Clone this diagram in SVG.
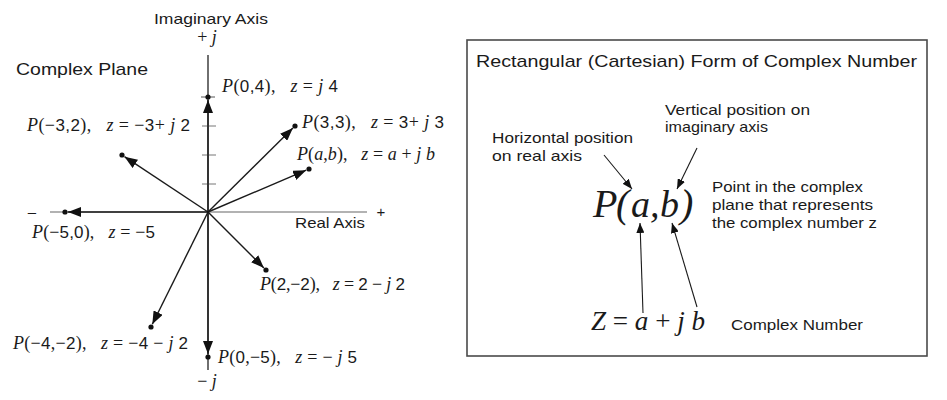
<svg xmlns="http://www.w3.org/2000/svg" width="947" height="400" viewBox="0 0 947 400">
<defs>
<style>
.sans{font-family:"Liberation Sans","DejaVu Sans",sans-serif;fill:#1a1a1a}
.lbl{font-family:"Liberation Serif","DejaVu Serif",serif;font-size:18px;fill:#1a1a1a;white-space:pre}
.i{font-style:italic}
.d{font-family:"Liberation Sans","DejaVu Sans",sans-serif;font-size:17px}
.math{font-family:"Liberation Serif","DejaVu Serif",serif;font-style:italic;fill:#1a1a1a}
.vec{stroke:#1a1a1a;stroke-width:1.4;fill:none;marker-end:url(#ah)}
.thin{stroke:#1a1a1a;stroke-width:1.1;fill:none;marker-end:url(#sah)}
.dot{fill:#111}
</style>
<marker id="ah" viewBox="0 0 13 10" refX="13" refY="5" markerWidth="13" markerHeight="10" markerUnits="userSpaceOnUse" orient="auto">
<path d="M0,0 L13,5 L0,10 z" fill="#111"/>
</marker>
<marker id="sah" viewBox="0 0 10 8" refX="10" refY="4" markerWidth="10" markerHeight="8" markerUnits="userSpaceOnUse" orient="auto">
<path d="M0,0 L10,4 L0,8 z" fill="#111"/>
</marker>
</defs>
<rect width="947" height="400" fill="#fff"/>

<g id="rect-form-box">
<rect x="467" y="40" width="460" height="316" fill="#fff" stroke="#4a4a4a" stroke-width="1.6"/>
<text class="sans" x="476" y="67" font-size="17" textLength="441" lengthAdjust="spacingAndGlyphs">Rectangular (Cartesian) Form of Complex Number</text>
</g>

<g id="axes">
<line x1="50" y1="212" x2="367" y2="212" stroke="#999" stroke-width="1.5"/>
<line x1="208" y1="55" x2="208" y2="370" stroke="#333" stroke-width="1.4"/>
<line x1="201" y1="97" x2="215" y2="97" stroke="#555" stroke-width="1"/>
<line x1="202" y1="126" x2="216" y2="126" stroke="#777" stroke-width="1"/>
<line x1="202" y1="155" x2="216" y2="155" stroke="#777" stroke-width="1"/>
<line x1="202" y1="184" x2="216" y2="184" stroke="#777" stroke-width="1"/>
</g>

<g id="connectors">
<line class="vec" x1="208" y1="212" x2="208" y2="100"/>
<line class="vec" x1="208" y1="212" x2="292.9" y2="128.1"/>
<line class="vec" x1="208" y1="212" x2="306.2" y2="170.2"/>
<line class="vec" x1="208" y1="212" x2="124.5" y2="156.7"/>
<line class="vec" x1="208" y1="212" x2="68" y2="212"/>
<line class="vec" x1="208" y1="212" x2="263.9" y2="267.9"/>
<line class="vec" x1="208" y1="212" x2="152.3" y2="324.3"/>
<line class="vec" x1="208" y1="212" x2="208" y2="354"/>
<line class="thin" x1="604" y1="155" x2="632" y2="189"/>
<line class="thin" x1="697" y1="148" x2="677" y2="189"/>
<line class="thin" x1="643" y1="313" x2="640" y2="223"/>
<line class="thin" x1="697" y1="307" x2="672" y2="223"/>
</g>

<g id="points">
<circle class="dot" cx="208" cy="97" r="2.6"/>
<circle class="dot" cx="295" cy="126" r="2.6"/>
<circle class="dot" cx="309" cy="169" r="2.6"/>
<circle class="dot" cx="122" cy="155" r="2.6"/>
<circle class="dot" cx="65" cy="212" r="2.6"/>
<circle class="dot" cx="266" cy="270" r="2.6"/>
<circle class="dot" cx="151" cy="327" r="2.6"/>
<circle class="dot" cx="208" cy="357" r="2.6"/>
</g>

<g id="plane-labels">
<text class="sans" x="154" y="24" font-size="15" textLength="114" lengthAdjust="spacingAndGlyphs">Imaginary Axis</text>
<text class="lbl" x="207" y="43" text-anchor="middle">+ <tspan class="i">j</tspan></text>
<text class="sans" x="16" y="75" font-size="17" textLength="132" lengthAdjust="spacingAndGlyphs">Complex Plane</text>
<text class="sans" x="295" y="228" font-size="15" textLength="70" lengthAdjust="spacingAndGlyphs">Real Axis</text>
<text class="sans" x="381" y="217" font-size="15" text-anchor="middle">+</text>
<text class="sans" x="32" y="217" font-size="15" text-anchor="middle">–</text>
<text class="lbl" x="207" y="387" text-anchor="middle">− <tspan class="i">j</tspan></text>
</g>

<g id="node-p04"><text class="lbl" xml:space="preserve" x="222" y="92" textLength="116" lengthAdjust="spacing"><tspan class="i">P</tspan>(<tspan class="d">0,4</tspan>),   <tspan class="i">z</tspan> = <tspan class="i">j</tspan> <tspan class="d">4</tspan></text></g>
<g id="node-p33"><text class="lbl" xml:space="preserve" x="302" y="128" textLength="142" lengthAdjust="spacing"><tspan class="i">P</tspan>(<tspan class="d">3,3</tspan>),   <tspan class="i">z</tspan> = <tspan class="d">3</tspan>+ <tspan class="i">j</tspan> <tspan class="d">3</tspan></text></g>
<g id="node-pab"><text class="lbl" xml:space="preserve" x="297" y="160" textLength="138" lengthAdjust="spacing"><tspan class="i">P</tspan>(<tspan class="i">a</tspan>,<tspan class="i">b</tspan>),   <tspan class="i">z</tspan> = <tspan class="i">a</tspan> + <tspan class="i">j b</tspan></text></g>
<g id="node-pm32"><text class="lbl" xml:space="preserve" x="27" y="131" textLength="163" lengthAdjust="spacing"><tspan class="i">P</tspan>(−<tspan class="d">3,2</tspan>),   <tspan class="i">z</tspan> = −<tspan class="d">3</tspan>+ <tspan class="i">j</tspan> <tspan class="d">2</tspan></text></g>
<g id="node-pm50"><text class="lbl" xml:space="preserve" x="32" y="238" textLength="123" lengthAdjust="spacing"><tspan class="i">P</tspan>(−<tspan class="d">5,0</tspan>),   <tspan class="i">z</tspan> = −<tspan class="d">5</tspan></text></g>
<g id="node-p2m2"><text class="lbl" xml:space="preserve" x="260" y="290" textLength="145" lengthAdjust="spacing"><tspan class="i">P</tspan>(<tspan class="d">2</tspan>,−<tspan class="d">2</tspan>),   <tspan class="i">z</tspan> = <tspan class="d">2</tspan> − <tspan class="i">j</tspan> <tspan class="d">2</tspan></text></g>
<g id="node-pm4m2"><text class="lbl" xml:space="preserve" x="13" y="349" textLength="175" lengthAdjust="spacing"><tspan class="i">P</tspan>(−<tspan class="d">4</tspan>,−<tspan class="d">2</tspan>),   <tspan class="i">z</tspan> = −<tspan class="d">4</tspan> − <tspan class="i">j</tspan> <tspan class="d">2</tspan></text></g>
<g id="node-p0m5"><text class="lbl" xml:space="preserve" x="218" y="363" textLength="139" lengthAdjust="spacing"><tspan class="i">P</tspan>(<tspan class="d">0</tspan>,−<tspan class="d">5</tspan>),   <tspan class="i">z</tspan> = − <tspan class="i">j</tspan> <tspan class="d">5</tspan></text></g>

<g id="node-vertical">
<text class="sans" x="665" y="115" font-size="15" textLength="145" lengthAdjust="spacingAndGlyphs">Vertical position on</text>
<text class="sans" x="665" y="132" font-size="15" textLength="103" lengthAdjust="spacingAndGlyphs">imaginary axis</text>
</g>
<g id="node-horizontal">
<text class="sans" x="492" y="143" font-size="15" textLength="141" lengthAdjust="spacingAndGlyphs">Horizontal position</text>
<text class="sans" x="492" y="161" font-size="15" textLength="90" lengthAdjust="spacingAndGlyphs">on real axis</text>
</g>
<g id="node-point">
<text class="math" x="593" y="217" font-size="40">P</text>
<text class="math" x="616" y="217" font-size="40" font-style="normal">(</text>
<text class="math" x="631" y="217" font-size="38">a</text>
<text class="math" x="650" y="217" font-size="38" font-style="normal">,</text>
<text class="math" x="660" y="217" font-size="38">b</text>
<text class="math" x="680" y="217" font-size="40" font-style="normal">)</text>
</g>
<g id="node-point-desc">
<text class="sans" x="712" y="192" font-size="15" textLength="151" lengthAdjust="spacingAndGlyphs">Point in the complex</text>
<text class="sans" x="712" y="210" font-size="15" textLength="161" lengthAdjust="spacingAndGlyphs">plane that represents</text>
<text class="sans" x="712" y="228" font-size="15" textLength="165" lengthAdjust="spacingAndGlyphs">the complex number z</text>
</g>
<g id="node-z">
<text class="math" x="591" y="330" font-size="28" textLength="114" lengthAdjust="spacingAndGlyphs">Z <tspan font-style="normal">=</tspan> a <tspan font-style="normal">+</tspan> j b</text>
</g>
<g id="node-complex-number">
<text class="sans" x="731" y="330" font-size="15" textLength="132" lengthAdjust="spacingAndGlyphs">Complex Number</text>
</g>
</svg>
